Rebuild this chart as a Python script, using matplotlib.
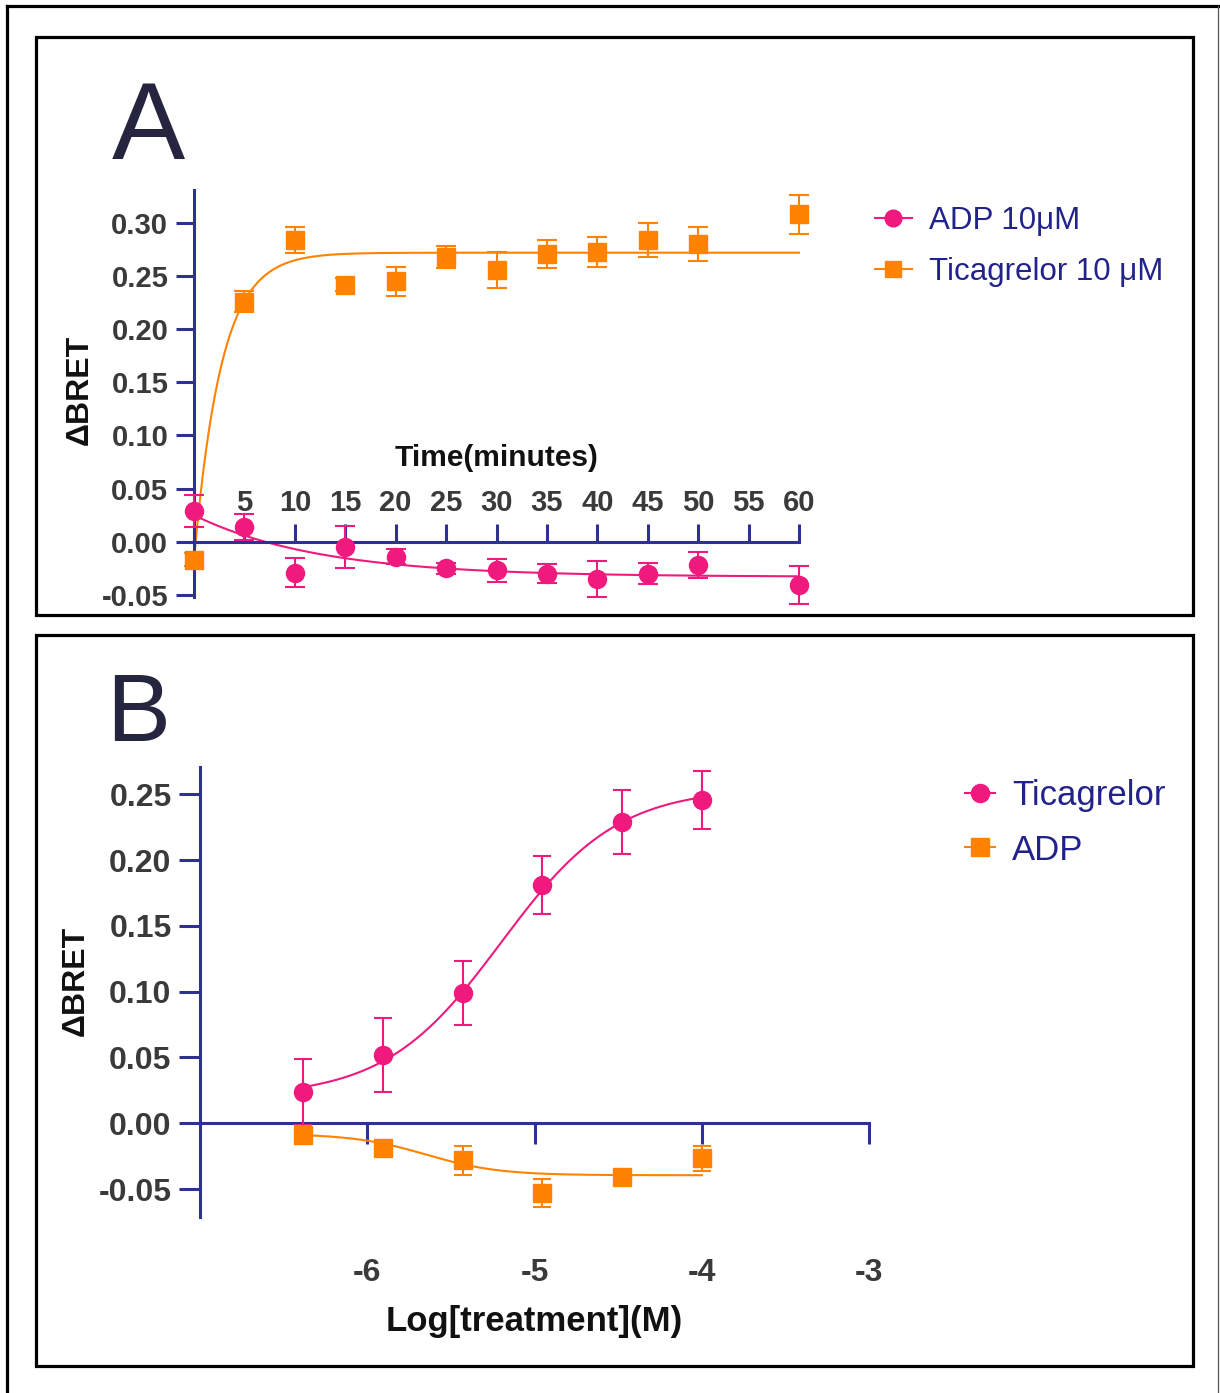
import numpy as np
import matplotlib.pyplot as plt
from matplotlib.lines import Line2D
from matplotlib.patches import Rectangle
from matplotlib.ticker import FormatStrFormatter

plt.rcParams['font.family'] = ['Liberation Sans', 'DejaVu Sans']
plt.rcParams['axes.unicode_minus'] = False

W, H = 1220, 1393

PINK = '#F0197D'
ORANGE = '#FF8200'
NAVY = '#2E3190'
TICKGRAY = '#3A3A3A'
LEGEND_BLUE = '#22228C'
LETTER = '#25253F'

# ---- panel A: time course at 10 uM ----
time_min = [0, 5, 10, 15, 20, 25, 30, 35, 40, 45, 50, 60]
adp_time = [0.029, 0.014, -0.029, -0.005, -0.014, -0.025, -0.027, -0.030, -0.035, -0.030, -0.022, -0.041]
adp_time_err = [0.015, 0.012, 0.014, 0.020, 0.007, 0.005, 0.011, 0.009, 0.017, 0.010, 0.012, 0.018]
tica_time = [-0.017, 0.226, 0.284, 0.242, 0.245, 0.268, 0.256, 0.271, 0.273, 0.284, 0.280, 0.308]
tica_time_err = [0.006, 0.010, 0.012, 0.006, 0.014, 0.010, 0.017, 0.013, 0.014, 0.016, 0.016, 0.018]

# one-phase association fits: (Y0, plateau, K per minute)
adp_time_fit = (0.025, -0.033, 0.08)
tica_time_fit = (-0.017, 0.272, 0.37)

time_ticks = [5, 10, 15, 20, 25, 30, 35, 40, 45, 50, 55, 60]
bret_ticks_a = [-0.05, 0.00, 0.05, 0.10, 0.15, 0.20, 0.25, 0.30]

# ---- panel B: concentration response ----
log_conc = [-6.385, -5.908, -5.431, -4.954, -4.477, -4.0]
tica_dose = [0.024, 0.052, 0.099, 0.181, 0.229, 0.246]
tica_dose_err = [0.025, 0.028, 0.024, 0.022, 0.024, 0.022]
adp_dose = [-0.009, -0.019, -0.028, -0.053, -0.0405, -0.0266]
adp_dose_err = [0.007, 0.005, 0.011, 0.011, 0.004, 0.0095]

# four-parameter logistic fits: (bottom, top, logEC50, hill slope)
tica_dose_fit = (0.02, 0.255, -5.2, 1.25)
adp_dose_fit = (-0.008, -0.0395, -5.65, 2.0)

log_ticks = [-6, -5, -4, -3]
bret_ticks_b = [-0.05, 0.00, 0.05, 0.10, 0.15, 0.20, 0.25]


def one_phase(t, y0, plateau, k):
    return y0 + (plateau - y0) * (1 - np.exp(-k * t))


def four_pl(x, bottom, top, logec50, hill):
    return bottom + (top - bottom) / (1 + 10 ** ((logec50 - x) * hill))


def fx(px):
    return px / W


def fy(py):
    return (H - py) / H


fig = plt.figure(figsize=(W / 100, H / 100), dpi=100)

# outer frame and panel boxes
fig.add_artist(Line2D([fx(6.5), fx(6.5)], [0, fy(5.5)], color='black', lw=2.3))
fig.add_artist(Line2D([fx(6.5), fx(1218)], [fy(5.5), fy(5.5)], color='black', lw=2.3))
fig.add_artist(Line2D([fx(1218), fx(1218)], [0, fy(5.5)], color='#555555', lw=0.9))
for top, bottom in [(36.5, 614.5), (634.5, 1366)]:
    fig.add_artist(Rectangle((fx(35.5), fy(bottom)), fx(1192.5) - fx(35.5), fy(top) - fy(bottom),
                             fill=False, ec='black', lw=2.3, transform=fig.transFigure))

fig.text(fx(112), fy(159), 'A', fontsize=79, color=LETTER, ha='left', va='baseline')
fig.text(fx(106), fy(741), 'B', fontsize=69, color=LETTER, ha='left', va='baseline')


def style_axes(ax, ytick_len, ytick_size):
    ax.spines['right'].set_visible(False)
    ax.spines['left'].set_color(NAVY)
    ax.spines['left'].set_linewidth(2.2)
    ax.tick_params(axis='y', direction='out', length=ytick_len, width=2.2, color=NAVY,
                   pad=5.5, labelsize=ytick_size, labelcolor=TICKGRAY)
    ax.yaxis.set_major_formatter(FormatStrFormatter('%.2f'))
    for lbl in ax.get_xticklabels() + ax.get_yticklabels():
        lbl.set_fontweight('bold')
    ax.patch.set_visible(False)


# ---- panel A ----
axA = fig.add_axes([fx(194), fy(597), fx(799) - fx(194), fy(190) - fy(597)])
axA.set_xlim(0, 60)
axA.set_ylim(-0.052, 0.331)
axA.spines['bottom'].set_visible(False)
axA.spines['top'].set_position(('data', 0))
axA.spines['top'].set_color(NAVY)
axA.spines['top'].set_linewidth(2.2)
axA.xaxis.set_ticks_position('top')
axA.set_xticks(time_ticks)
axA.set_yticks(bret_ticks_a)
axA.tick_params(axis='x', direction='out', length=13, width=2.2, color=NAVY,
                pad=4.5, labelsize=21, labelcolor=TICKGRAY)
style_axes(axA, 13, 21)

t_grid = np.linspace(0, 60, 400)
axA.plot(t_grid, one_phase(t_grid, *tica_time_fit), color=ORANGE, lw=1.5, clip_on=False)
axA.plot(t_grid, one_phase(t_grid, *adp_time_fit), color=PINK, lw=1.5, clip_on=False)
axA.errorbar(time_min, tica_time, yerr=tica_time_err, fmt='s', color=ORANGE, ms=13.5,
             capsize=7, elinewidth=1.5, capthick=1.5, clip_on=False, zorder=3)
axA.errorbar(time_min, adp_time, yerr=adp_time_err, fmt='o', color=PINK, ms=13,
             capsize=7, elinewidth=1.5, capthick=1.5, clip_on=False, zorder=4)

axA.set_xlabel('Time(minutes)', fontsize=21.5, fontweight='bold', color='#111111', va='center')
axA.xaxis.set_label_coords(0.5, (597 - 458) / 407)
axA.set_ylabel('ΔBRET', fontsize=23, fontweight='bold', color='#111111', va='center')
axA.yaxis.set_label_coords((80 - 194) / 605, (597 - 390) / 407)

handles_a = [Line2D([], [], color=PINK, marker='o', ms=12, lw=1.5),
             Line2D([], [], color=ORANGE, marker='s', ms=12, lw=1.5)]
axA.legend(handles_a, ['ADP 10μM', 'Ticagrelor 10 μM'], loc='upper left',
           bbox_to_anchor=(fx(875), fy(206)), bbox_transform=fig.transFigure,
           frameon=False, fontsize=22.5, handlelength=1.18, handletextpad=0.55,
           labelspacing=0.68, borderpad=0, borderaxespad=0, labelcolor=LEGEND_BLUE)

# ---- panel B ----
axB = fig.add_axes([fx(200), fy(1216.7), fx(869.4) - fx(200), fy(766.7) - fy(1216.7)])
axB.set_xlim(-7, -3)
axB.set_ylim(-0.071, 0.271)
axB.spines['top'].set_visible(False)
axB.spines['bottom'].set_position(('data', 0))
axB.spines['bottom'].set_color(NAVY)
axB.spines['bottom'].set_linewidth(2.2)
axB.set_xticks(log_ticks)
axB.set_xticklabels([str(v) for v in log_ticks])
axB.set_yticks(bret_ticks_b)
axB.tick_params(axis='x', direction='out', length=15, width=2.2, color=NAVY,
                pad=82, labelsize=23, labelcolor=TICKGRAY)
style_axes(axB, 15, 23)

x_grid = np.linspace(log_conc[0], log_conc[-1], 400)
axB.plot(x_grid, four_pl(x_grid, *tica_dose_fit), color=PINK, lw=1.5)
axB.plot(x_grid, four_pl(x_grid, *adp_dose_fit), color=ORANGE, lw=1.5)
axB.errorbar(log_conc, tica_dose, yerr=tica_dose_err, fmt='o', color=PINK, ms=13,
             capsize=6.5, elinewidth=1.5, capthick=1.5, clip_on=False, zorder=3)
axB.errorbar(log_conc, adp_dose, yerr=adp_dose_err, fmt='s', color=ORANGE, ms=13,
             capsize=6.5, elinewidth=1.5, capthick=1.5, clip_on=False, zorder=4)

axB.set_xlabel('Log[treatment](M)', fontsize=25, fontweight='bold', color='#111111', va='center')
axB.xaxis.set_label_coords(0.5, (1216.7 - 1322) / 450)
axB.set_ylabel('ΔBRET', fontsize=23, fontweight='bold', color='#111111', va='center')
axB.yaxis.set_label_coords((76 - 200) / 669.4, (1216.7 - 981) / 450)

handles_b = [Line2D([], [], color=PINK, marker='o', ms=13, lw=1.5),
             Line2D([], [], color=ORANGE, marker='s', ms=13, lw=1.5)]
axB.legend(handles_b, ['Ticagrelor', 'ADP'], loc='upper left',
           bbox_to_anchor=(fx(965), fy(779)), bbox_transform=fig.transFigure,
           frameon=False, fontsize=25, handlelength=0.86, handletextpad=0.49,
           labelspacing=0.62, borderpad=0, borderaxespad=0, labelcolor=LEGEND_BLUE)

fig.savefig('out.png', dpi=100)
